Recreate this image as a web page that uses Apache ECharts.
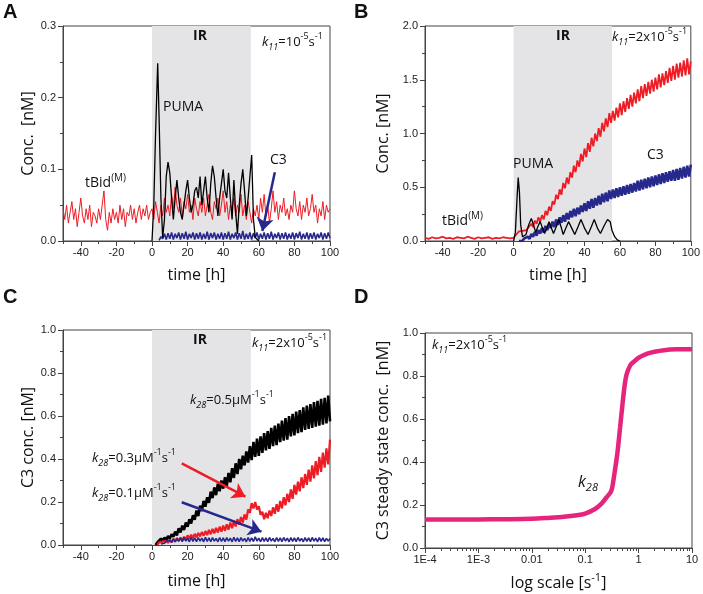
<!DOCTYPE html>
<html><head><meta charset="utf-8">
<script src="https://cdn.jsdelivr.net/npm/echarts@6.0.0/dist/echarts.min.js"></script>
<style>html,body{margin:0;padding:0;background:#fff}#c{width:703px;height:594px}</style>
</head><body><div id="c"></div>
<script>
// ---------- tick labels ----------
const TIME_LABELS = [-40,-20,0,20,40,60,80,100];
const TIME_MINOR = [-50,-30,-10,10,30,50,70,90];
const LOG_LABELS = [1e-4,1e-3,0.01,0.1,1,10];
const LOG_MINOR = [];
for (let e=-4;e<1;e++){ for(let m=2;m<10;m++){ LOG_MINOR.push(m*Math.pow(10,e)); } }
const IR_START = 0, IR_END = 55.5;

// ---------- Panel A (k11 = 1e-5) ----------
// tBid(M), t = -50..100 step 1
const A_TBID = [
 .045,.03,.05,.025,.04,.055,.03,.045,.02,.04,
 .06,.035,.025,.045,.03,.05,.02,.04,.035,.025,
 .045,.03,.05,.07,.03,.015,.04,.025,.045,.03,
 .04,.025,.05,.03,.045,.02,.04,.035,.05,.03,
 .045,.025,.04,.05,.03,.045,.035,.05,.03,.04,
 .045,.03,.055,.04,.025,.05,.035,.06,.04,.05,
 .035,.065,.045,.075,.05,.04,.06,.035,.055,.045,
 .065,.04,.05,.03,.06,.045,.035,.055,.04,.06,
 .035,.05,.065,.04,.03,.055,.045,.06,.035,.05,
 .07,.04,.055,.03,.05,.045,.06,.035,.05,.04,
 .065,.035,.05,.03,.055,.04,.025,.045,.035,.05,
 .03,.06,.04,.065,.035,.05,.025,.045,.07,.04,
 .055,.03,.05,.04,.06,.035,.045,.03,.05,.04,
 .07,.045,.035,.055,.03,.05,.04,.06,.035,.045,
 .065,.04,.05,.025,.045,.035,.055,.03,.05,.04,
 .045];
// C3, t = 4..100 step 1
const A_C3 = [
 .001,.006,.003,.01,.002,.011,.003,.012,.002,.01,
 .004,.012,.002,.011,.003,.013,.002,.01,.004,.012,
 .002,.011,.003,.012,.002,.01,.003,.013,.002,.011,
 .004,.012,.002,.01,.003,.012,.002,.011,.003,.013,
 .002,.01,.004,.012,.002,.011,.003,.014,.002,.01,
 .003,.012,.002,.011,.004,.012,.002,.01,.003,.012,
 .002,.011,.003,.013,.002,.01,.004,.012,.002,.011,
 .003,.012,.002,.01,.003,.012,.002,.011,.004,.013,
 .002,.01,.003,.012,.002,.011,.003,.012,.002,.01,
 .004,.012,.002,.011,.003,.012,.004];
// PUMA [t, conc]
const A_PUMA = [[0,0],[1,0.05],[2,0.15],[3.2,0.248],[4,0.17],[5,0.06],[6,0.005],[7,0.03],[8,0.09],[9,0.11],
 [10,0.095],[11,0.06],[12,0.03],[13,0.06],[14,0.085],[15,0.06],[16,0.04],[17,0.03],[18,0.05],[19,0.07],
 [20,0.085],[21,0.06],[22,0.04],[23,0.05],[24,0.07],[25,0.075],[26,0.06],[27,0.09],[28,0.05],[29,0.07],
 [30,0.09],[31,0.06],[32,0.04],[33,0.08],[34,0.105],[35,0.09],[36,0.06],[37,0.035],[38,0.06],[39,0.08],
 [40,0.1],[41,0.07],[42,0.06],[43,0.095],[44,0.06],[45,0.03],[46,0.085],[47,0.04],[48,0.01],[49,0.05],
 [50,0.08],[51,0.1],[52,0.07],[53,0.035],[54,0.06],[55,0.09],[56,0.12],[57,0.03],[58,0.005],[60,0]];

// ---------- Panel B (k11 = 2e-5) ----------
// tBid(M) t = -50..-2 step 2
const B_TBID_PRE = [.03,.02,.035,.025,.03,.04,.025,.03,.02,.035,.03,.025,.04,.03,.02,.035,.025,.03,.035,.02,.03,.025,.035,.03,.025];
// tBid(M) t = 0..100 step 1
const B_TBID = [
 .03,.045,.07,.09,.1,.095,.105,.1,.12,.115,
 .16,.13,.19,.16,.22,.18,.24,.2,.28,.24,
 .32,.28,.37,.34,.43,.39,.48,.43,.54,.49,
 .59,.53,.64,.59,.7,.64,.75,.69,.81,.74,
 .86,.78,.91,.83,.96,.88,1.0,.93,1.05,.97,
 1.1,1.02,1.14,1.06,1.19,1.1,1.21,1.12,1.24,1.15,
 1.28,1.17,1.3,1.2,1.33,1.23,1.36,1.25,1.38,1.28,
 1.41,1.3,1.44,1.33,1.46,1.35,1.48,1.37,1.5,1.39,
 1.52,1.41,1.55,1.43,1.56,1.45,1.58,1.47,1.61,1.49,
 1.63,1.5,1.65,1.52,1.66,1.53,1.68,1.54,1.7,1.55,
 1.67];
// C3 t = 3..100 step 1
const B_C3 = [
 0,.01,0,.025,.01,.04,.02,.065,.04,.085,
 .05,.1,.07,.12,.08,.14,.1,.16,.12,.18,
 .13,.2,.15,.22,.17,.24,.18,.26,.2,.28,
 .22,.3,.23,.31,.25,.33,.27,.35,.28,.37,
 .3,.39,.31,.4,.33,.42,.34,.44,.36,.45,
 .37,.47,.39,.48,.4,.49,.41,.5,.42,.51,
 .43,.52,.44,.53,.45,.54,.46,.56,.47,.57,
 .48,.58,.49,.59,.5,.6,.51,.61,.52,.62,
 .53,.63,.54,.64,.55,.65,.56,.66,.56,.67,
 .57,.68,.58,.69,.59,.7,.6,.71];
const B_PUMA = [[0,0],[1,0.08],[2,0.42],[2.6,0.59],[3.3,0.45],[4,0.15],[5,0.04],[6,0.03],[7,0.06],[8.5,0.15],
 [10,0.21],[11,0.16],[12.5,0.08],[13.8,0.14],[15,0.18],[16.3,0.12],[17.5,0.07],[18.8,0.12],[20,0.18],[21.3,0.12],
 [22.5,0.07],[24,0.13],[25.5,0.2],[26.8,0.13],[28,0.06],[29.5,0.12],[31,0.18],[32.8,0.12],[34.5,0.06],[36.3,0.13],
 [38,0.2],[40,0.12],[42,0.06],[43.8,0.13],[45.5,0.2],[47.3,0.12],[49,0.07],[51,0.14],[53,0.2],[54.5,0.18],
 [55.5,0.1],[57,0.04],[58.5,0.01],[60,0]];

// ---------- Panel C (C3 for various k28) ----------
// k28 = 0.5, t = 2..100 step 1
const C_K05 = [
 0,.012,.008,.03,.018,.035,.022,.042,.03,.05,
 .038,.062,.045,.078,.058,.09,.07,.105,.085,.12,
 .1,.138,.118,.16,.135,.183,.158,.205,.178,.222,
 .196,.248,.218,.268,.232,.285,.25,.3,.262,.315,
 .275,.335,.292,.357,.312,.38,.33,.4,.352,.415,
 .37,.435,.383,.46,.395,.48,.41,.495,.415,.505,
 .428,.52,.44,.53,.447,.545,.46,.555,.465,.565,
 .478,.578,.485,.59,.49,.6,.505,.61,.51,.62,
 .52,.628,.525,.64,.535,.648,.54,.655,.545,.665,
 .55,.67,.555,.68,.56,.685,.565,.695,.575];
// k28 = 0.3, t = 3..100 step 1
const C_K03 = [
 0,.012,.004,.016,.008,.02,.01,.025,.013,.028,
 .016,.032,.02,.035,.022,.038,.025,.045,.03,.048,
 .032,.052,.036,.056,.04,.06,.043,.065,.046,.07,
 .05,.075,.054,.08,.058,.085,.062,.09,.066,.096,
 .072,.104,.078,.112,.086,.12,.094,.13,.104,.142,
 .118,.165,.15,.195,.17,.2,.165,.18,.14,.155,
 .12,.15,.125,.16,.135,.175,.145,.19,.155,.205,
 .17,.222,.185,.238,.2,.258,.215,.28,.235,.295,
 .25,.315,.265,.33,.28,.35,.295,.37,.31,.39,
 .325,.41,.34,.43,.36,.45,.375,.49];
// k28 = 0.1, t = 5..100 step 1
const C_K01 = [
 .005,.012,.008,.018,.01,.022,.012,.028,.015,.03,
 .017,.032,.016,.034,.018,.031,.015,.035,.017,.033,
 .016,.034,.018,.032,.015,.036,.017,.033,.016,.034,
 .018,.031,.015,.035,.017,.033,.016,.034,.018,.032,
 .015,.036,.017,.033,.016,.034,.018,.031,.015,.035,
 .017,.033,.016,.038,.018,.032,.015,.034,.017,.033,
 .016,.035,.018,.031,.015,.034,.017,.033,.016,.035,
 .018,.032,.015,.034,.017,.033,.016,.035,.018,.031,
 .015,.034,.017,.033,.016,.035,.018,.032,.015,.034,
 .017,.033,.016,.031,.018,.03];

// ---------- Panel D (steady state vs k28) ----------
const D_K28 = [1e-4,3e-4,1e-3,3e-3,0.01,0.02,0.04,0.07,0.1,0.15,0.2,0.25,0.3,0.32,0.35,0.4,0.45,0.5,0.55,0.6,0.7,0.8,1,1.5,2,3,5,10];
const D_C3  = [0.132,0.132,0.133,0.134,0.136,0.14,0.145,0.152,0.16,0.18,0.205,0.235,0.26,0.28,0.34,0.44,0.56,0.67,0.76,0.81,0.85,0.865,0.885,0.905,0.913,0.92,0.924,0.925];

// ---------- styling ----------
const RED='#ee1c25', BLUE='#27288c', BLACK='#000000', PINK='#e6247b', SHADE='#e4e4e6', AX='#444';
const TF='Liberation Sans', LF='Open Sans';
const GRIDS=[
 {left:63,top:26,width:267,height:215},
 {left:425,top:26,width:267,height:215},
 {left:63,top:330,width:267,height:215},
 {left:425,top:333,width:267,height:215}
];
const toXY=(t0,step,arr)=>arr.map((v,i)=>[t0+i*step,v]);

function timeAxes(gi,gap){
 return [
  {type:'value',gridIndex:gi,min:-50,max:100,position:'bottom',
   axisLine:{show:true,onZero:false,lineStyle:{color:AX}},
   axisTick:{show:true,length:5,customValues:TIME_LABELS,lineStyle:{color:AX}},
   axisLabel:{customValues:TIME_LABELS,color:'#222',fontSize:11,fontFamily:TF,margin:6},
   splitLine:{show:false},
   name:'time [h]',nameLocation:'middle',nameGap:gap,
   nameTextStyle:{fontSize:16,fontFamily:LF,color:'#111',verticalAlign:'top'}},
  {type:'value',gridIndex:gi,min:-50,max:100,position:'bottom',
   axisLine:{show:false,onZero:false},
   axisTick:{show:true,length:3,customValues:TIME_MINOR,lineStyle:{color:AX}},
   axisLabel:{show:false},splitLine:{show:false}}
 ];
}
function yAx(gi,max,interval,name,gap){
 return {type:'value',gridIndex:gi,min:0,max:max,interval:interval,
  axisLine:{show:true,onZero:false,lineStyle:{color:AX}},
  axisTick:{show:true,length:5,lineStyle:{color:AX}},
  minorTick:{show:true,splitNumber:2,length:3,lineStyle:{color:AX}},
  axisLabel:{color:'#222',fontSize:11,fontFamily:TF,margin:7,formatter:v=>v.toFixed(1)},
  splitLine:{show:false},minorSplitLine:{show:false},
  name:name,nameLocation:'middle',nameGap:gap,
  nameTextStyle:{fontSize:16,fontFamily:LF,color:'#111'}};
}
const logFmt=v=>{const e=Math.round(Math.log10(v));return ({'-4':'1E-4','-3':'1E-3','-2':'0.01','-1':'0.1','0':'1','1':'10'})[e];};

const xAxes=[...timeAxes(0,26),...timeAxes(1,26),...timeAxes(2,28),
 {type:'log',gridIndex:3,min:1e-4,max:10,logBase:10,position:'bottom',
  axisLine:{show:true,onZero:false,lineStyle:{color:AX}},
  axisTick:{show:true,length:5,customValues:LOG_LABELS,lineStyle:{color:AX}},
  axisLabel:{customValues:LOG_LABELS,formatter:logFmt,color:'#222',fontSize:11,fontFamily:TF,margin:6},
  splitLine:{show:false},minorSplitLine:{show:false},
  name:'{a|log scale [s}{b|-1}{a|]}',nameLocation:'middle',nameGap:24,
  nameTextStyle:{fontSize:16,fontFamily:LF,color:'#111',verticalAlign:'top',
   rich:{a:{fontSize:16,fontFamily:LF,color:'#111',lineHeight:22},b:{fontSize:11,fontFamily:LF,color:'#111',verticalAlign:'top',lineHeight:12}}}},
 {type:'log',gridIndex:3,min:1e-4,max:10,logBase:10,position:'bottom',
  axisLine:{show:false,onZero:false},
  axisTick:{show:true,length:3,customValues:LOG_MINOR,lineStyle:{color:AX}},
  axisLabel:{show:false},splitLine:{show:false},minorSplitLine:{show:false}}
];
// main x axis indices: A=0, B=2, C=4, D=6
const yAxes=[yAx(0,0.3,0.1,'Conc.  [nM]',25),yAx(1,2.0,0.5,'Conc. [nM]',34),
 yAx(2,1.0,0.2,'C3 conc. [nM]',25),yAx(3,1.0,0.2,'C3 steady state conc.  [nM]',34)];

function shade(xi,yi){
 return {type:'line',xAxisIndex:xi,yAxisIndex:yi,data:[],z:1,silent:true,
  markArea:{silent:true,itemStyle:{color:SHADE},data:[[{xAxis:IR_START},{xAxis:IR_END}]]}};
}
function line(xi,yi,data,color,w,extra){
 return Object.assign({type:'line',xAxisIndex:xi,yAxisIndex:yi,data:data,showSymbol:false,symbol:'none',
  lineStyle:{color:color,width:w,join:'bevel'},itemStyle:{color:color},z:3,silent:true},extra||{});
}
function arrow(color,from,to){
 return {silent:true,symbol:['none','arrow'],symbolSize:13,label:{show:false},
  lineStyle:{color:color,width:2.5,type:'solid'},itemStyle:{color:color},
  data:[[{coord:from},{coord:to}]]};
}

const series=[
 shade(0,0),
 line(0,0,toXY(-50,1,A_TBID),RED,1),
 line(0,0,toXY(4,1,A_C3),BLUE,1.6,{markLine:arrow(BLUE,[69,0.096],[62,0.014])}),
 line(0,0,A_PUMA,BLACK,1.3),
 shade(2,1),
 line(2,1,toXY(-50,2,B_TBID_PRE).concat(toXY(0,1,B_TBID)),RED,1.8),
 line(2,1,toXY(3,1,B_C3),BLUE,2.6),
 line(2,1,B_PUMA,BLACK,1.3),
 shade(4,2),
 line(4,2,toXY(2,1,C_K05),BLACK,2.6),
 line(4,2,toXY(3,1,C_K03),RED,2.2,{markLine:arrow(RED,[16.7,0.38],[52.5,0.225])}),
 line(4,2,toXY(5,1,C_K01),BLUE,1.6,{markLine:arrow(BLUE,[16.7,0.199],[61.5,0.062])}),
 line(6,3,D_K28.map((k,i)=>[k,D_C3[i]]),PINK,4.5,{smooth:0.3})
];

const RICH={
 n:{fontSize:13,fontFamily:LF,fill:'#111',lineHeight:20},
 k:{fontSize:13,fontFamily:LF,fontStyle:'italic',fill:'#111',lineHeight:20},
 sub:{fontSize:9,fontFamily:LF,fontStyle:'italic',fill:'#111',verticalAlign:'bottom',lineHeight:11},
 sup:{fontSize:9,fontFamily:LF,fill:'#111',verticalAlign:'top',lineHeight:11},
 big:{fontSize:14,fontFamily:LF,fill:'#111',lineHeight:20},
 bsup:{fontSize:10,fontFamily:LF,fill:'#111',verticalAlign:'top',lineHeight:12},
 bk:{fontSize:16,fontFamily:LF,fontStyle:'italic',fill:'#111',lineHeight:22},
 bsub:{fontSize:11,fontFamily:LF,fontStyle:'italic',fill:'#111',verticalAlign:'bottom',lineHeight:12}
};
function T(x,y,text,o){
 return {type:'text',x:x,y:y,z:50,silent:true,style:Object.assign({text:text,rich:RICH,fill:'#111',font:'14px "Open Sans"',align:'left',verticalAlign:'middle'},o||{})};
}
const k11a='{k|k}{sub|11}{n|=10}{sup|-5}{n|s}{sup|-1}';
const k11b='{k|k}{sub|11}{n|=2x10}{sup|-5}{n|s}{sup|-1}';
const k28=v=>'{k|k}{sub|28}{n|='+v+'μM}{sup|-1}{n|s}{sup|-1}';
const graphics=[
 T(3,12,'A',{font:'bold 20px "Liberation Sans"'}),
 T(354,12,'B',{font:'bold 20px "Liberation Sans"'}),
 T(3,297,'C',{font:'bold 20px "Liberation Sans"'}),
 T(354,297,'D',{font:'bold 20px "Liberation Sans"'}),
 T(200,36,'IR',{font:'bold 14px "Open Sans"',align:'center'}),
 T(262,42,k11a),
 T(163,107,'PUMA',{font:'14px "Open Sans"'}),
 T(85,183,'{big|tBid}{bsup|(M)}'),
 T(270,160,'C3',{font:'14px "Open Sans"'}),
 T(563,36,'IR',{font:'bold 14px "Open Sans"',align:'center'}),
 T(612,37,k11b),
 T(513,164,'PUMA',{font:'14px "Open Sans"'}),
 T(442,221,'{big|tBid}{bsup|(M)}'),
 T(647,155,'C3',{font:'14px "Open Sans"'}),
 T(200,340,'IR',{font:'bold 14px "Open Sans"',align:'center'}),
 T(252,343,k11b),
 T(190,400,k28('0.5')),
 T(92,458,k28('0.3')),
 T(92,493,k28('0.1')),
 T(432,345,k11b),
 T(578,482,'{bk|k}{bsub|28}')
];

const chart=echarts.init(document.getElementById('c'),null,{renderer:'canvas'});
chart.setOption({
 animation:false,backgroundColor:'#fff',
 grid:GRIDS.map(g=>Object.assign({show:true,borderColor:AX,borderWidth:1,backgroundColor:'transparent',containLabel:false},g)),
 xAxis:xAxes,yAxis:yAxes,series:series,graphic:graphics
});
</script></body></html>
